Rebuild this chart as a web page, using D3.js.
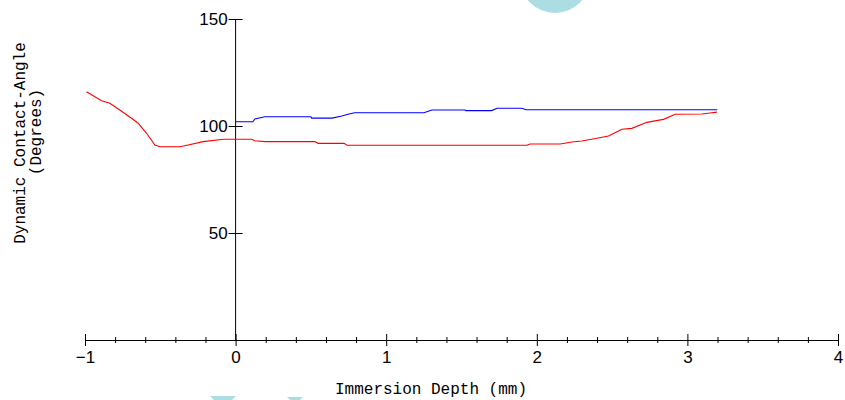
<!DOCTYPE html>
<html>
<head>
<meta charset="utf-8">
<script src="https://cdn.jsdelivr.net/npm/d3@7"></script>
<style>
  body { margin: 0; background: #fff; }
  svg { display: block; }
</style>
</head>
<body>
<script>
// depth (mm) / contact angle (degrees)
var blueDepth = [0, 0.115, 0.128, 0.195, 0.50, 0.505, 0.64, 0.706, 0.746, 0.79, 1.25, 1.304, 1.523, 1.53, 1.70, 1.737, 1.90, 1.93, 3.198]
var blueAngle = [102.0, 102.0, 103.3, 104.3, 104.3, 103.7, 103.7, 104.7, 105.5, 106.2, 106.2, 107.5, 107.5, 107.2, 107.2, 108.3, 108.3, 107.6, 107.6]

var redDepth = [-0.990, -0.890, -0.835, -0.769, -0.691, -0.647, -0.591, -0.536, -0.503, -0.370, -0.315, -0.215, -0.082, 0, 0.106, 0.128, 0.195, 0.527, 0.547, 0.72, 0.74, 1.934, 1.955, 2.155, 2.233, 2.299, 2.399, 2.476, 2.565, 2.631, 2.731, 2.841, 2.919, 3.096, 3.151, 3.196]
var redAngle = [116.0, 111.8, 110.6, 107.5, 103.6, 101.3, 96.6, 91.1, 90.3, 90.3, 91.1, 92.7, 93.8, 93.8, 93.8, 93.1, 92.7, 92.7, 91.9, 91.9, 91.0, 91.0, 91.6, 91.6, 92.5, 93.0, 94.3, 95.3, 98.5, 98.9, 101.7, 103.1, 105.5, 105.6, 106.1, 106.5]

var xMajor = [-1, 0, 1, 2, 3, 4]
var yTicks = [50, 100, 150]

var W = 845, H = 400

var svg = d3.select("body").append("svg")
    .attr("width", W).attr("height", H)

// faint cyan marks from the source image
svg.append("ellipse").attr("cx", 555).attr("cy", -22).attr("rx", 35).attr("ry", 35)
    .attr("fill", "#abdde3")
svg.append("path").attr("d", "M210,396 L236,396 L232,400 L214,400 Z").attr("fill", "#abdde3")
svg.append("path").attr("d", "M287,397 L303,397 L300,400 L290,400 Z").attr("fill", "#abdde3")

var x = d3.scaleLinear().domain([-1, 4]).range([85, 838])
var y = d3.scaleLinear().domain([0, 150]).range([340, 19])

var minor = d3.range(-1, 4.001, 0.2).map(function(d){ return Math.round(d * 10) / 10 })

var gx = svg.append("g")
    .attr("transform", "translate(0," + y(0) + ")")
    .call(d3.axisBottom(x).tickValues(minor).tickSizeOuter(0)
        .tickFormat(function(d){ return xMajor.indexOf(d) >= 0 ? d3.format("d")(d) : "" }))

gx.select(".domain").attr("stroke", "#000")
gx.selectAll(".tick line")
    .attr("stroke", "#000")
    .attr("y1", function(d){ return xMajor.indexOf(d) >= 0 ? -6 : -3 })
    .attr("y2", function(d){ return xMajor.indexOf(d) >= 0 ? 6 : 3 })
gx.selectAll(".tick text")
    .attr("y", 11)
    .attr("font-family", "Liberation Sans")
    .attr("font-size", 17)
    .attr("fill", "#000")

var gy = svg.append("g")
    .attr("transform", "translate(" + x(0) + ",0)")
    .call(d3.axisLeft(y).tickValues(yTicks).tickSizeOuter(0))

gy.select(".domain").attr("d", "M0," + y(0) + "V" + y(150)).attr("stroke", "#000")
gy.selectAll(".tick line").attr("stroke", "#000").attr("x1", -7).attr("x2", 7)
gy.selectAll(".tick text")
    .attr("x", -8)
    .attr("font-family", "Liberation Sans")
    .attr("font-size", 17)
    .attr("fill", "#000")

var line = d3.line()
    .x(function(d){ return x(d[0]) })
    .y(function(d){ return y(d[1]) })

svg.append("path")
    .datum(redDepth.map(function(d, i){ return [d, redAngle[i]] }))
    .attr("d", line)
    .attr("fill", "none").attr("stroke", "#ff0000").attr("stroke-width", 1.1)

svg.append("path")
    .datum(blueDepth.map(function(d, i){ return [d, blueAngle[i]] }))
    .attr("d", line)
    .attr("fill", "none").attr("stroke", "#0000ff").attr("stroke-width", 1.1)

// axis titles
svg.append("text")
    .attr("x", 431).attr("y", 394)
    .attr("text-anchor", "middle")
    .attr("font-family", "Liberation Mono").attr("font-size", 16)
    .text("Immersion Depth (mm)")

var yt = svg.append("g").attr("transform", "translate(0,143) rotate(-90)")
yt.append("text")
    .attr("x", 0).attr("y", 25)
    .attr("text-anchor", "middle")
    .attr("font-family", "Liberation Mono").attr("font-size", 16)
    .text("Dynamic Contact-Angle")
yt.append("text")
    .attr("x", 11).attr("y", 41)
    .attr("text-anchor", "middle")
    .attr("font-family", "Liberation Mono").attr("font-size", 16)
    .text("(Degrees)")
</script>
</body>
</html>
